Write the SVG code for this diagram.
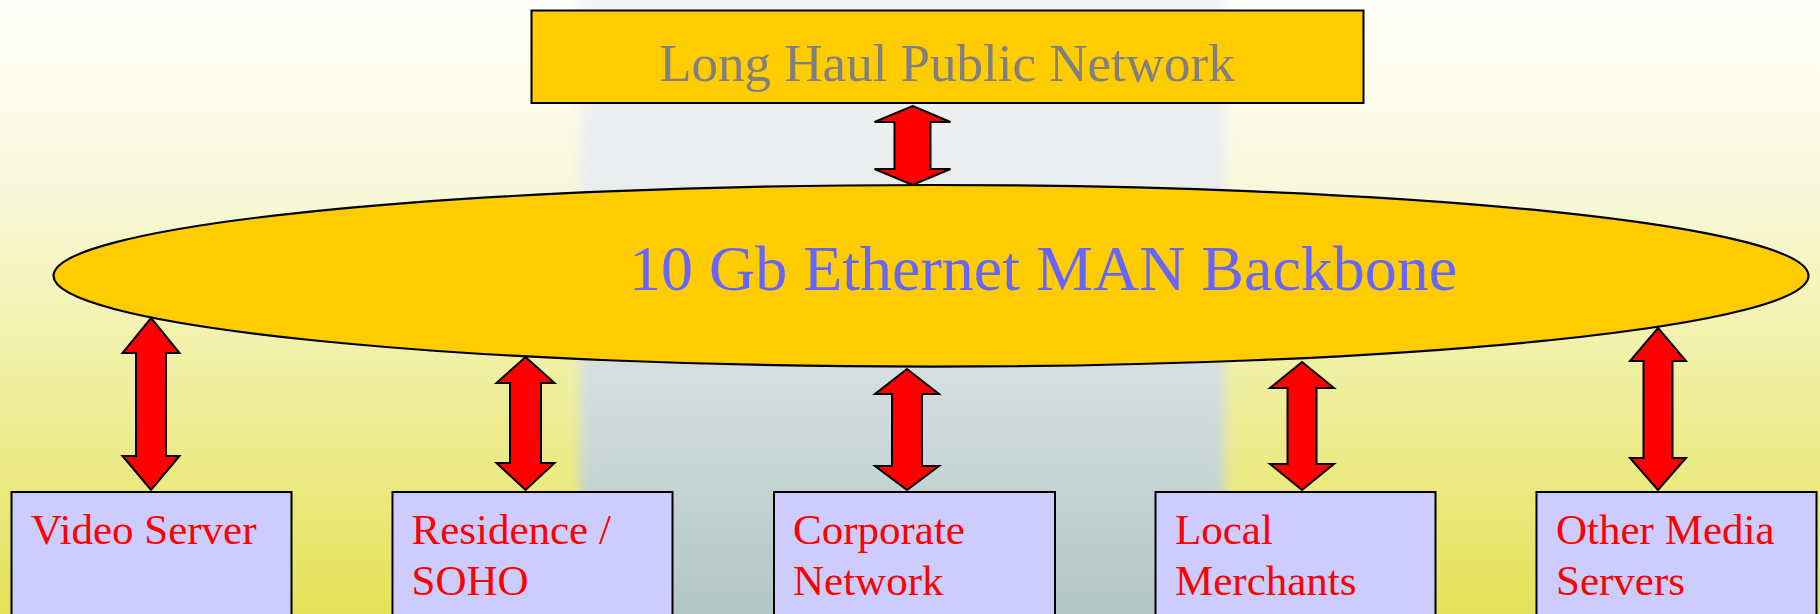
<svg xmlns="http://www.w3.org/2000/svg" width="1820" height="614" viewBox="0 0 1820 614">
<defs>
<linearGradient id="bg" x1="0" y1="0" x2="0" y2="1">
<stop offset="0" stop-color="#FEFFFA"/>
<stop offset="0.3" stop-color="#F8F9DC"/>
<stop offset="0.62" stop-color="#F0EFA0"/>
<stop offset="1" stop-color="#E4E258"/>
</linearGradient>
<linearGradient id="band" x1="0" y1="0" x2="0" y2="1">
<stop offset="0" stop-color="#F4F5F8"/>
<stop offset="0.3" stop-color="#E9EDEE"/>
<stop offset="0.65" stop-color="#D0DCDC"/>
<stop offset="1" stop-color="#AFC3C1"/>
</linearGradient>
<filter id="blur" x="-0.05" y="-0.05" width="1.1" height="1.1">
<feGaussianBlur stdDeviation="6"/>
</filter>
<style>
.arrow{fill:#FF0000;stroke:#000000;stroke-width:2;stroke-linejoin:miter}
.leaf{fill:#CCCCFF;stroke:#000000;stroke-width:2}
.leaftxt{font-family:"Liberation Serif","Times New Roman",serif;font-size:43px;fill:#FF0000}
</style>
</defs>
<rect x="0" y="0" width="1820" height="614" fill="url(#bg)"/>
<rect x="580" y="-20" width="645" height="660" fill="url(#band)" filter="url(#blur)"/>

<g id="long-haul">
<rect x="531.5" y="10.5" width="832" height="92.5" fill="#FFCC00" stroke="#000000" stroke-width="2"/>
<text x="947" y="81" text-anchor="middle" font-family="'Liberation Serif','Times New Roman',serif" font-size="53" fill="#808080">Long Haul Public Network</text>
</g>

<g id="backbone">
<ellipse cx="931" cy="275.8" rx="877.5" ry="90.8" fill="#FFCC00" stroke="#000000" stroke-width="2.2"/>
<text x="629" y="289.5" font-family="'Liberation Serif','Times New Roman',serif" font-size="64" fill="#6666FF">10 Gb Ethernet MAN Backbone</text>
</g>

<g id="connectors">
<path class="arrow" d="M912.5,106 L950.5,122 L930.5,122 L930.5,169 L950.5,169 L912.5,185 L874.5,169 L894.5,169 L894.5,122 L874.5,122 Z"/>
<path class="arrow" d="M151,318 L179.5,353 L166,353 L166,456 L179.5,456 L151,490 L122.5,456 L136,456 L136,353 L122.5,353 Z"/>
<path class="arrow" d="M525.5,357 L554.5,383 L541,383 L541,463 L554.5,463 L525.5,490 L496.5,463 L510,463 L510,383 L496.5,383 Z"/>
<path class="arrow" d="M907,369 L939,394 L922,394 L922,466 L939,466 L907,490 L875,466 L892,466 L892,394 L875,394 Z"/>
<path class="arrow" d="M1302,362 L1334,388 L1316.5,388 L1316.5,464 L1334,464 L1302,490 L1270,464 L1287.5,464 L1287.5,388 L1270,388 Z"/>
<path class="arrow" d="M1658,328 L1686,361 L1672.5,361 L1672.5,458 L1686,458 L1658,490 L1630,458 L1643.5,458 L1643.5,361 L1630,361 Z"/>
</g>

<g id="video-server">
<rect class="leaf" x="11.5" y="492" width="280" height="130"/>
<text class="leaftxt" x="31" y="544">Video Server</text>
</g>

<g id="residence-soho">
<rect class="leaf" x="392.5" y="492" width="280" height="130"/>
<text class="leaftxt" x="411.5" y="544">Residence /</text>
<text class="leaftxt" x="411.5" y="595">SOHO</text>
</g>

<g id="corporate-network">
<rect class="leaf" x="774" y="492" width="281" height="130"/>
<text class="leaftxt" x="793" y="544">Corporate</text>
<text class="leaftxt" x="793" y="595">Network</text>
</g>

<g id="local-merchants">
<rect class="leaf" x="1155.5" y="492" width="280" height="130"/>
<text class="leaftxt" x="1175" y="544">Local</text>
<text class="leaftxt" x="1175" y="595">Merchants</text>
</g>

<g id="other-media-servers">
<rect class="leaf" x="1536.5" y="492" width="280" height="130"/>
<text class="leaftxt" x="1556" y="544">Other Media</text>
<text class="leaftxt" x="1556" y="595">Servers</text>
</g>
</svg>
